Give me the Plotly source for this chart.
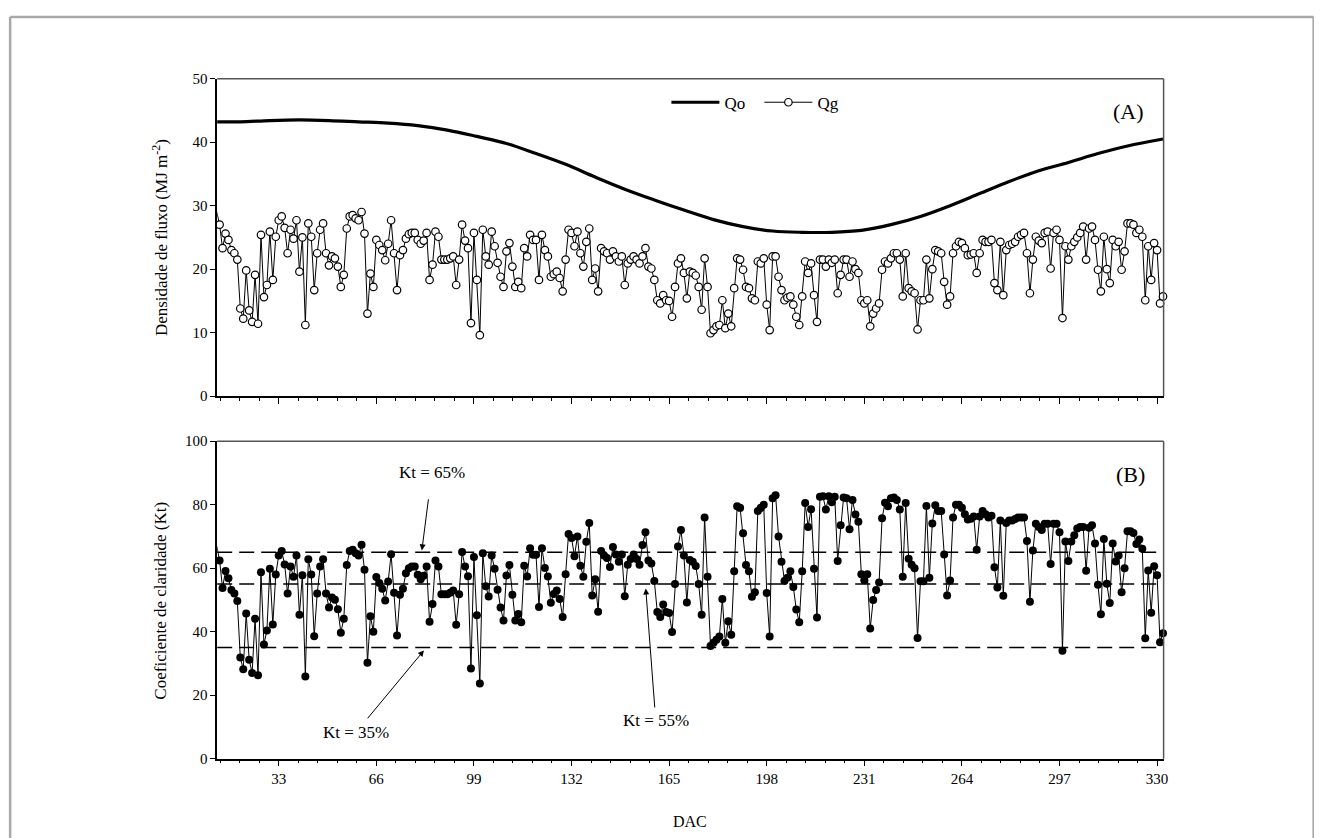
import plotly.graph_objects as go

# ---------------- data ----------------
days = list(range(12, 333))

qg = [
    29.1, 27.0, 23.3, 25.6, 24.6, 23.0, 22.5, 21.5, 13.8, 12.2,
    19.8, 13.5, 11.7, 19.1, 11.4, 25.4, 15.6, 17.5, 25.9, 18.3,
    25.1, 27.7, 28.3, 26.5, 22.5, 26.2, 24.8, 27.7, 19.6, 25.0,
    11.2, 27.2, 25.1, 16.7, 22.5, 26.2, 27.2, 22.5, 20.6, 22.0,
    21.7, 20.4, 17.2, 19.1, 26.4, 28.3, 28.5, 28.0, 27.7, 29.0,
    25.6, 13.0, 19.3, 17.2, 24.6, 23.8, 23.0, 21.4, 24.0, 27.7,
    22.5, 16.7, 22.2, 23.0, 24.8, 25.5, 25.7, 25.7, 24.6, 24.0,
    24.5, 25.7, 18.3, 20.7, 25.9, 25.1, 21.5, 21.5, 21.5, 21.7,
    22.0, 17.5, 21.5, 27.0, 24.5, 23.3, 11.5, 25.7, 18.3, 9.6,
    26.2, 22.0, 20.7, 25.9, 23.6, 21.0, 18.8, 17.2, 22.8, 24.1,
    20.4, 17.2, 18.0, 17.0, 23.3, 22.0, 25.4, 24.6, 24.6, 18.3,
    25.4, 23.0, 22.0, 18.8, 19.2, 19.6, 18.6, 16.5, 21.5, 26.2,
    25.7, 23.6, 25.9, 22.5, 20.4, 24.3, 26.4, 18.3, 20.1, 16.5,
    23.3, 22.8, 22.5, 21.5, 22.8, 22.0, 21.2, 22.0, 17.5, 20.9,
    21.5, 22.0, 21.5, 20.9, 22.0, 23.3, 20.4, 20.1, 18.3, 15.1,
    14.6, 15.9, 15.1, 15.0, 12.5, 17.2, 20.9, 21.7, 19.4, 15.4,
    19.6, 19.4, 19.0, 17.2, 13.6, 21.7, 17.2, 9.9, 10.4, 11.0,
    11.2, 15.1, 10.7, 13.0, 11.0, 17.0, 21.7, 21.5, 19.9, 17.2,
    17.0, 15.4, 15.1, 21.2, 20.9, 21.7, 14.4, 10.4, 22.0, 22.0,
    18.8, 16.7, 15.1, 15.5, 15.7, 14.4, 12.5, 11.2, 15.7, 21.2,
    19.4, 20.9, 15.9, 11.7, 21.5, 21.5, 20.4, 21.5, 21.0, 21.5,
    16.2, 19.1, 21.5, 21.5, 18.8, 21.2, 20.0, 19.4, 15.1, 14.6,
    15.1, 11.0, 13.0, 13.8, 14.6, 19.9, 21.2, 20.9, 21.7, 22.5,
    22.5, 21.5, 15.7, 22.5, 17.0, 16.5, 16.2, 10.5, 15.1, 15.1,
    21.5, 15.4, 20.0, 23.0, 22.8, 22.5, 18.0, 14.4, 15.7, 22.5,
    23.6, 24.3, 24.1, 23.3, 22.2, 22.3, 22.5, 19.4, 22.5, 24.6,
    24.3, 24.3, 24.6, 17.8, 16.7, 24.3, 15.9, 23.0, 23.8, 24.0,
    24.3, 25.1, 25.4, 25.7, 22.5, 16.2, 21.5, 25.1, 24.5, 24.1,
    25.7, 25.9, 20.1, 25.7, 26.2, 24.6, 12.3, 23.6, 21.5, 23.6,
    24.3, 25.0, 25.7, 26.7, 21.5, 26.4, 26.7, 24.6, 19.9, 16.5,
    25.1, 20.0, 17.8, 24.6, 23.6, 24.3, 19.9, 22.8, 27.2, 27.2,
    27.0, 25.7, 26.2, 25.1, 15.1, 23.6, 18.3, 24.1, 23.0, 14.6,
    15.7,
]

kt = [
    67.2, 62.4, 53.8, 59.1, 56.8, 53.1, 52.0, 49.7, 31.9, 28.2,
    45.7, 31.2, 27.0, 44.1, 26.3, 58.7, 36.0, 40.4, 59.8, 42.3,
    58.0, 64.0, 65.4, 61.2, 52.0, 60.5, 57.3, 64.0, 45.3, 57.8,
    25.9, 62.8, 58.0, 38.6, 52.0, 60.5, 62.8, 52.0, 47.6, 50.8,
    50.1, 47.1, 39.7, 44.1, 61.0, 65.4, 65.8, 64.7, 64.0, 67.4,
    59.5, 30.2, 44.9, 40.0, 57.2, 55.3, 53.5, 49.8, 55.8, 64.4,
    52.3, 38.8, 51.6, 53.5, 58.4, 60.0, 60.5, 60.5, 57.9, 56.5,
    57.6, 60.5, 43.1, 48.7, 62.4, 60.5, 51.8, 51.8, 51.8, 52.3,
    53.0, 42.2, 51.8, 65.1, 60.5, 57.5, 28.4, 63.5, 45.2, 23.7,
    64.7, 54.3, 51.1, 64.0, 59.8, 53.2, 47.6, 43.5, 57.7, 61.0,
    51.6, 43.5, 45.6, 43.0, 60.8, 57.4, 66.3, 64.2, 64.2, 47.8,
    66.3, 60.1, 57.4, 49.1, 51.9, 53.0, 50.3, 44.6, 58.1, 70.8,
    69.5, 63.8, 70.0, 60.8, 57.3, 68.3, 74.2, 51.4, 56.5, 46.3,
    65.4, 64.0, 63.2, 60.4, 66.7, 64.3, 62.0, 64.3, 51.2, 61.1,
    62.9, 64.3, 62.9, 61.1, 67.3, 71.3, 62.4, 61.5, 56.0, 46.2,
    44.6, 48.6, 46.2, 45.9, 39.9, 55.0, 66.8, 72.0, 64.0, 49.2,
    62.6, 62.0, 60.7, 55.0, 45.3, 76.0, 57.3, 35.5, 36.5, 37.5,
    38.5, 50.3, 36.5, 43.3, 39.0, 59.0, 79.5, 79.0, 71.0, 61.0,
    59.0, 51.0, 52.4, 78.0, 79.0, 80.0, 52.2, 38.5, 82.0, 83.0,
    70.0, 62.0, 56.0, 57.0, 59.0, 54.1, 47.0, 43.0, 59.0, 80.5,
    73.0, 78.6, 59.8, 44.5, 82.5, 82.7, 78.5, 82.7, 80.8, 82.5,
    62.3, 73.5, 82.3, 82.0, 72.3, 81.5, 76.9, 74.6, 58.1, 56.2,
    58.1, 41.0, 50.0, 53.1, 55.5, 75.7, 80.6, 79.5, 82.0, 82.3,
    81.5, 78.5, 57.3, 80.5, 63.0, 61.1, 60.0, 38.0, 55.9, 55.9,
    79.6, 57.0, 74.1, 79.8, 78.0, 78.0, 64.3, 51.4, 56.1, 76.0,
    80.0, 80.0, 79.0, 77.0, 75.3, 75.6, 76.3, 65.8, 76.3, 78.0,
    77.0, 76.0, 76.5, 60.3, 53.9, 75.0, 51.3, 74.2, 75.0, 75.0,
    75.5, 76.0, 76.0, 76.0, 68.6, 49.4, 65.6, 74.0, 73.0, 72.0,
    74.0, 74.0, 61.3, 74.0, 74.0, 71.3, 34.0, 68.4, 62.3, 68.4,
    70.4, 72.5, 73.0, 73.0, 59.2, 72.7, 73.5, 67.8, 54.8, 45.5,
    69.2, 55.1, 49.0, 67.8, 62.1, 64.0, 52.4, 60.0, 71.6, 71.6,
    71.1, 67.6, 69.0, 66.1, 37.9, 59.3, 46.0, 60.6, 57.8, 36.7,
    39.5,
]

qo_days = [12, 20, 30, 40, 50, 60, 70, 80, 90, 100, 110, 120, 130, 140, 150, 160,
           170, 180, 190, 200, 210, 220, 230, 240, 250, 260, 270, 280, 290, 300,
           310, 320, 332]
qo_vals = [43.2, 43.2, 43.4, 43.5, 43.4, 43.2, 43.0, 42.6, 41.9, 40.9, 39.8, 38.2,
           36.5, 34.5, 32.6, 30.9, 29.3, 27.8, 26.7, 26.0, 25.8, 25.8, 26.1, 27.0,
           28.3, 30.0, 31.9, 33.8, 35.5, 36.8, 38.2, 39.4, 40.5]

kt_levels = [35, 55, 65]
x_ticks = [33, 66, 99, 132, 165, 198, 231, 264, 297, 330]

# ---------------- figure ----------------
W, H = 1316, 838
FONT = "Liberation Serif, Times New Roman, serif"

# mapping from target-image pixels to figure paper fractions
SX, OX = 0.9958, 7.9
SY, OY = 0.9794, 16.8


def px_x(p):
    return (p / SX - OX) / W


def px_y(p):
    return 1 - (p / SY - OY) / H


fig = go.Figure()

fig.add_trace(go.Scatter(
    x=qo_days, y=qo_vals, mode="lines", name="Qo",
    line=dict(color="black", width=3.2, shape="spline"),
    xaxis="x", yaxis="y", cliponaxis=False,
))
fig.add_trace(go.Scatter(
    x=days, y=qg, mode="lines+markers", name="Qg",
    line=dict(color="black", width=1),
    marker=dict(symbol="circle", size=7.5, color="white",
                line=dict(color="black", width=1.2)),
    xaxis="x", yaxis="y", cliponaxis=False,
))
fig.add_trace(go.Scatter(
    x=days, y=kt, mode="lines+markers", name="Kt", showlegend=False,
    line=dict(color="black", width=1),
    marker=dict(symbol="circle", size=8, color="black"),
    xaxis="x2", yaxis="y2", cliponaxis=False,
))

dom_x = [px_x(217), px_x(1163)]
xr = [12.2, 332.2]

xcommon = dict(
    range=xr, domain=dom_x, showline=True, linecolor="black", linewidth=1.5,
    ticks="outside", ticklen=6, tickwidth=1.2, tickcolor="black",
    tickvals=x_ticks, showgrid=False, zeroline=False,
    minor=dict(dtick=6.6, tick0=0, ticks="outside", ticklen=3,
               tickwidth=1, tickcolor="black", showgrid=False),
    tickfont=dict(family=FONT, size=15, color="black"),
)

ycommon = dict(
    showline=True, linecolor="black", linewidth=1.5,
    ticks="outside", ticklen=5, tickwidth=1.2, tickcolor="black",
    showgrid=False, zeroline=False,
    tickfont=dict(family=FONT, size=15, color="black"),
)

fig.update_layout(
    width=W, height=H,
    margin=dict(l=0, r=0, t=0, b=0),
    paper_bgcolor="white", plot_bgcolor="white",
    font=dict(family=FONT, color="black", size=15),
    xaxis=dict(**xcommon, anchor="y", showticklabels=False),
    xaxis2=dict(**xcommon, anchor="y2", showticklabels=True),
    yaxis=dict(**ycommon, domain=[px_y(396), px_y(79)], range=[0, 50], dtick=10,
               anchor="x"),
    yaxis2=dict(**ycommon, domain=[px_y(758), px_y(441)], range=[0, 100], dtick=20,
                anchor="x2"),
    legend=dict(orientation="h", x=px_x(666), y=px_y(103),
                xanchor="left", yanchor="middle",
                bgcolor="rgba(0,0,0,0)",
                font=dict(family=FONT, size=17, color="black"),
                itemwidth=48, entrywidth=30, tracegroupgap=0),
    showlegend=True,
)

shapes = []
# reference lines of Kt
for lv in kt_levels:
    shapes.append(dict(type="line", xref="x2 domain", yref="y2",
                       x0=0, x1=1, y0=lv, y1=lv,
                       line=dict(color="black", width=1.6, dash="15px,7px")))
# top/right frame lines (gray) for both panels
for xd, yd in (("x domain", "y domain"), ("x2 domain", "y2 domain")):
    shapes.append(dict(type="line", xref=xd, yref=yd, x0=0, x1=1, y0=1, y1=1,
                       line=dict(color="#555555", width=1.5)))
    shapes.append(dict(type="line", xref=xd, yref=yd, x0=1, x1=1, y0=0, y1=1,
                       line=dict(color="#555555", width=1.5)))
# outer light-gray frame (left, top, right)
for (x0, y0, x1, y1) in ((10, 860, 10, 17.5), (10, 17.5, 1313, 17.5),
                         (1313, 17.5, 1313, 860)):
    shapes.append(dict(type="line", xref="paper", yref="paper",
                       x0=px_x(x0), x1=px_x(x1), y0=px_y(y0), y1=px_y(y1),
                       line=dict(color="#a8a8a8", width=2.5)))
fig.update_layout(shapes=shapes)

ann = []
# axis titles
ann.append(dict(text="Densidade de fluxo (MJ m<sup>-2</sup>)", textangle=-90,
                xref="paper", yref="paper", x=px_x(160), y=px_y(238),
                xanchor="center", yanchor="middle",
                showarrow=False, font=dict(family=FONT, size=17)))
ann.append(dict(text="Coeficiente de claridade (Kt)", textangle=-90,
                xref="paper", yref="paper", x=px_x(160), y=px_y(600),
                xanchor="center", yanchor="middle",
                showarrow=False, font=dict(family=FONT, size=17)))
ann.append(dict(text="DAC", xref="paper", yref="paper",
                x=px_x(690), y=px_y(821), xanchor="center", yanchor="middle",
                showarrow=False, font=dict(family=FONT, size=16)))
# panel labels
ann.append(dict(text="(A)", xref="paper", yref="paper", x=px_x(1128), y=px_y(112),
                xanchor="center", yanchor="middle",
                showarrow=False, font=dict(family=FONT, size=22)))
ann.append(dict(text="(B)", xref="paper", yref="paper", x=px_x(1130), y=px_y(474),
                xanchor="center", yanchor="middle",
                showarrow=False, font=dict(family=FONT, size=22)))
# Kt annotations with arrows (text sits at the arrow tail)
ann.append(dict(text="Kt = 65%", xref="x2", yref="y2", x=81.4, y=65.6,
                ax=10, ay=-78, showarrow=True, arrowhead=2, arrowsize=1.2,
                arrowwidth=1, arrowcolor="black", startstandoff=16,
                font=dict(family=FONT, size=17)))
ann.append(dict(text="Kt = 35%", xref="x2", yref="y2", x=82.1, y=34.1,
                ax=-68, ay=82, showarrow=True, arrowhead=2, arrowsize=1.2,
                arrowwidth=1, arrowcolor="black", startstandoff=4,
                font=dict(family=FONT, size=17)))
ann.append(dict(text="Kt = 55%", xref="x2", yref="y2", x=157.1, y=53.6,
                ax=10, ay=132, showarrow=True, arrowhead=2, arrowsize=1.2,
                arrowwidth=1, arrowcolor="black", startstandoff=2,
                font=dict(family=FONT, size=17)))
fig.update_layout(annotations=ann)

fig.write_html("out.html")
